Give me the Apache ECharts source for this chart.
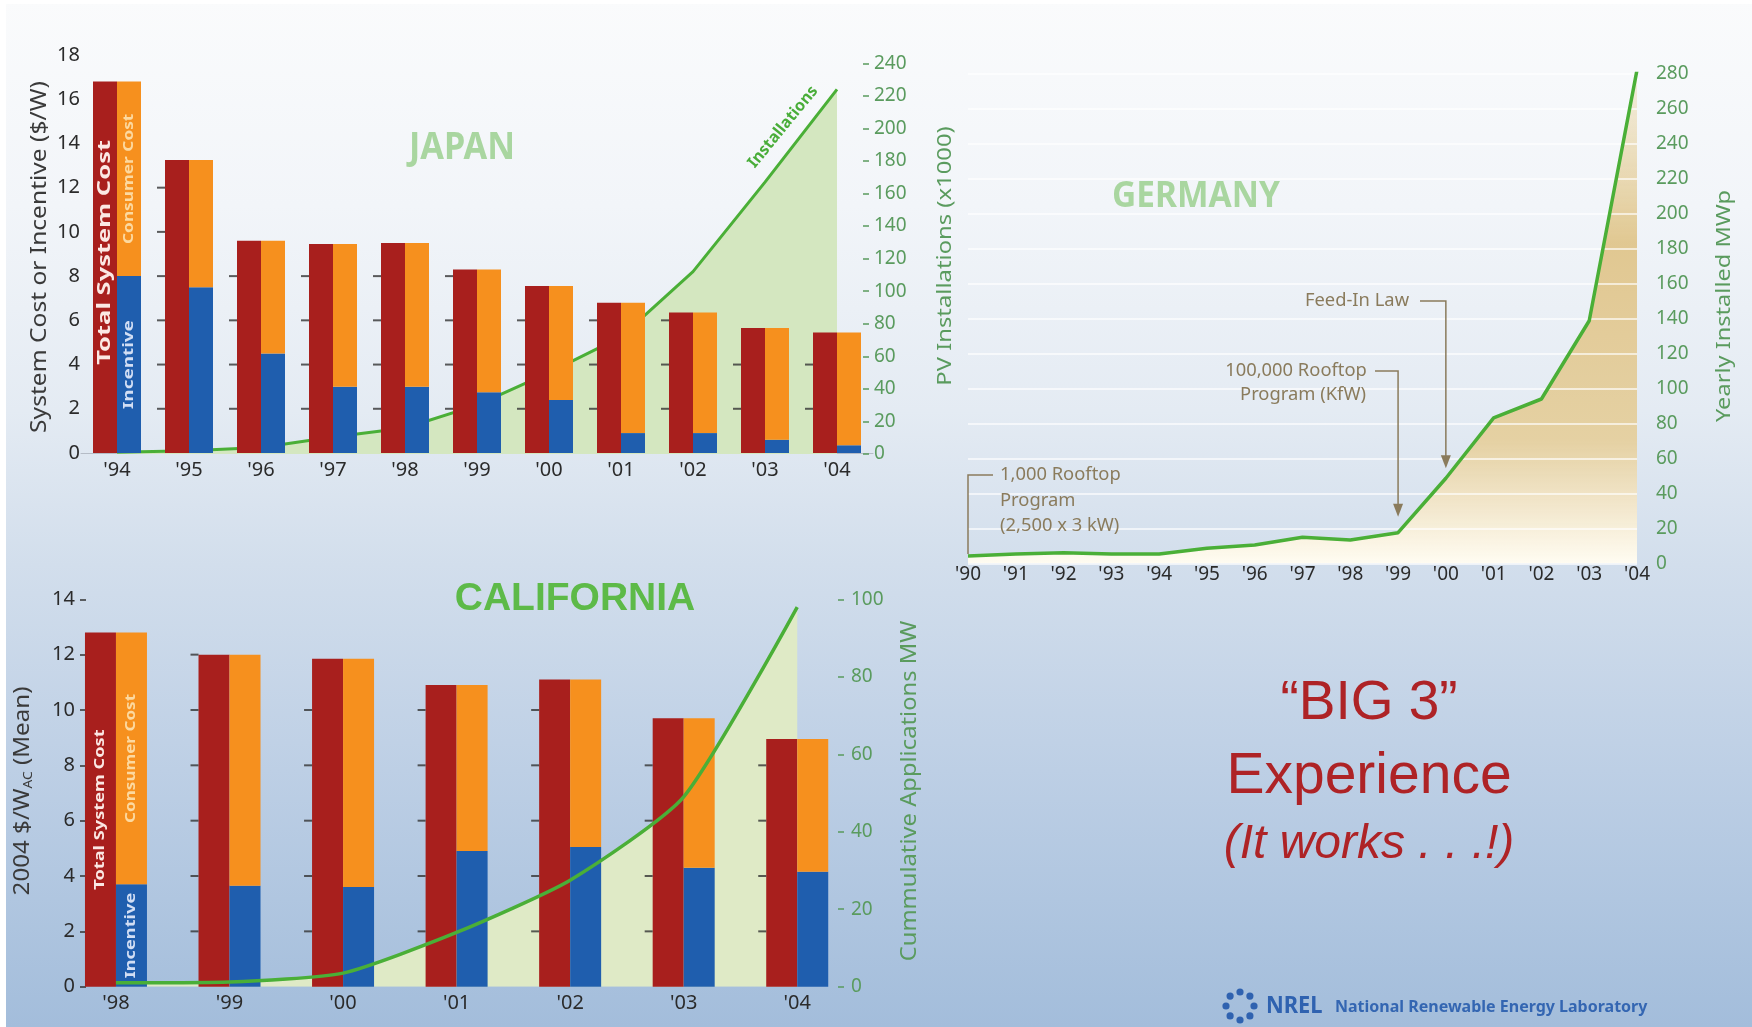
<!DOCTYPE html>
<html><head><meta charset="utf-8">
<script src="https://cdn.jsdelivr.net/npm/echarts@6/dist/echarts.min.js"></script>
<style>
html,body{margin:0;padding:0;width:1752px;height:1027px;overflow:hidden;background:#fff}
#c{position:absolute;left:0;top:0;width:1752px;height:1027px;
background:linear-gradient(to bottom,#fafbfc 0%,#f2f5f9 20%,#e4ebf3 40%,#d2deec 55%,#bdcfe5 75%,#a3bddb 100%);}
</style></head><body><div id="c"></div>
<script>
// ---------------- DATA ----------------
const barNames = ['Total System Cost', 'Consumer Cost', 'Incentive'];

const japanYears = ["'94","'95","'96","'97","'98","'99","'00","'01","'02","'03","'04"];
const japanTotal = [16.8, 13.25, 9.6, 9.45, 9.5, 8.3, 7.55, 6.8, 6.35, 5.65, 5.45];
const japanIncentive = [8.0, 7.5, 4.5, 3.0, 3.0, 2.75, 2.4, 0.9, 0.9, 0.6, 0.35];
const japanInstallations = [1, 2, 4, 10.5, 16, 30, 50, 72, 112, 167, 224];

const germanyYears = ["'90","'91","'92","'93","'94","'95","'96","'97","'98","'99","'00","'01","'02","'03","'04"];
const germanyInstalled = [4.3, 5.4, 6.2, 5.4, 5.4, 8.7, 10.6, 15, 13.4, 17.6, 48.7, 83.2, 94, 138.7, 282];

const caYears = ["'98","'99","'00","'01","'02","'03","'04"];
const caTotal = [12.8, 12.0, 11.85, 10.9, 11.1, 9.7, 8.95];
const caIncentive = [3.7, 3.65, 3.6, 4.9, 5.05, 4.3, 4.15];
const caApplications = [1, 1.2, 3.5, 14, 27.5, 49, 98];

const titles = {japan: 'JAPAN', germany: 'GERMANY', california: 'CALIFORNIA'};
const axisNames = {
  japanLeft: 'System Cost or Incentive ($/W)',
  japanRight: 'PV Installations (x1000)',
  germanyRight: 'Yearly Installed MWp',
  caRight: 'Cummulative Applications MW'
};
const germanyNotes = {
  rooftop1000: ['1,000 Rooftop', 'Program', '(2,500 x 3 kW)'],
  rooftop100k: ['100,000 Rooftop', 'Program (KfW)'],
  feedIn: 'Feed-In Law'
};

// ---------------- STYLE ----------------
const FONT = '"Noto Sans", "DejaVu Sans", sans-serif';
const ARIAL = '"Liberation Sans", Arial, sans-serif';
const RED = '#a81f1d', ORANGE = '#f6901e', BLUE = '#1f5eae';
const GREEN_LINE = '#4aaf37';
const AXIS_GREEN = '#5a9b5e';
const NOTE = '#8a7b5c';

const japanConsumer = japanTotal.map((t, i) => +(t - japanIncentive[i]).toFixed(2));
const caConsumer = caTotal.map((t, i) => +(t - caIncentive[i]).toFixed(2));

function dashData(totals, step) {
  const out = [];
  totals.forEach((t, i) => {
    if (i === 0) return;
    for (let v = step; v <= t + 0.05; v += step) out.push([i, v]);
  });
  return out;
}

const chart = echarts.init(document.getElementById('c'), null, {renderer: 'canvas', width: 1752, height: 1027});

const catLabel = (size, margin) => ({color: '#2b2b2b', fontSize: size, fontFamily: FONT, margin: margin, interval: 0});

chart.setOption({
  backgroundColor: 'transparent',
  animation: false,
  grid: [
    {left: 81, top: 55, width: 792, height: 398},
    {left: 81, top: 63.3, width: 792, height: 390.7},
    {left: 968, top: 73.5, width: 669, height: 490},
    {left: 59.2, top: 599.3, width: 794.8, height: 387.4}
  ],
  xAxis: [
    {gridIndex: 0, type: 'category', data: japanYears, axisTick: {show: false},
     axisLine: {lineStyle: {color: '#b5bcc6', width: 1}}, axisLabel: catLabel(20, 7)},
    {gridIndex: 1, type: 'category', data: japanYears, show: false},
    {gridIndex: 2, type: 'category', data: germanyYears, boundaryGap: false, axisTick: {show: false},
     axisLine: {show: false}, axisLabel: catLabel(19, 2)},
    {gridIndex: 3, type: 'category', data: caYears, axisTick: {show: false},
     axisLine: {show: false}, axisLabel: catLabel(20, 7)}
  ],
  yAxis: [
    {gridIndex: 0, type: 'value', min: 0, max: 18, interval: 2, splitLine: {show: false},
     axisLine: {show: false}, axisTick: {show: false},
     axisLabel: {color: '#2b2b2b', fontSize: 20, fontFamily: FONT, margin: 1}},
    {gridIndex: 1, type: 'value', position: 'right', offset: -10, min: 0, max: 240, interval: 20,
     splitLine: {show: false}, axisLine: {show: false},
     axisTick: {show: true, length: 6, lineStyle: {color: AXIS_GREEN, width: 1.5}},
     axisLabel: {color: AXIS_GREEN, fontSize: 19, fontFamily: FONT, margin: 11}},
    {gridIndex: 2, type: 'value', position: 'right', min: 0, max: 280, interval: 20, z: 3,
     splitLine: {show: true, lineStyle: {color: 'rgba(255,255,255,0.85)', width: 1.5}},
     axisLine: {show: false}, axisTick: {show: false},
     axisLabel: {color: AXIS_GREEN, fontSize: 19, fontFamily: FONT, margin: 19}},
    {gridIndex: 3, type: 'value', position: 'left', offset: -26.8, min: 0, max: 14, interval: 2,
     splitLine: {show: false}, axisLine: {show: false},
     axisTick: {show: true, length: 6, lineStyle: {color: '#333', width: 1.5}},
     axisLabel: {color: '#2b2b2b', fontSize: 20, fontFamily: FONT, margin: 11}},
    {gridIndex: 3, type: 'value', position: 'right', offset: -16, min: 0, max: 100, interval: 20,
     splitLine: {show: false}, axisLine: {show: false},
     axisTick: {show: true, length: 6, lineStyle: {color: AXIS_GREEN, width: 1.5}},
     axisLabel: {color: AXIS_GREEN, fontSize: 19, fontFamily: FONT, margin: 13}}
  ],
  series: [
    // ----- Japan -----
    {name: 'Installations', type: 'line', xAxisIndex: 1, yAxisIndex: 1, data: japanInstallations,
     symbol: 'none', z: 1, lineStyle: {color: GREEN_LINE, width: 3}, areaStyle: {color: '#d4e7c0', opacity: 1}},
    {name: barNames[0], type: 'bar', xAxisIndex: 0, yAxisIndex: 0, data: japanTotal, barWidth: 24, barGap: '0%',
     itemStyle: {color: RED}, z: 2},
    {name: barNames[2], type: 'bar', stack: 'jp', xAxisIndex: 0, yAxisIndex: 0, data: japanIncentive, barWidth: 24, barGap: '0%',
     itemStyle: {color: BLUE}, z: 2},
    {name: barNames[1], type: 'bar', stack: 'jp', xAxisIndex: 0, yAxisIndex: 0, data: japanConsumer, barWidth: 24, barGap: '0%',
     itemStyle: {color: ORANGE}, z: 2},
    {type: 'scatter', xAxisIndex: 0, yAxisIndex: 0, data: dashData(japanTotal, 2), symbol: 'rect',
     symbolSize: [8, 2], symbolOffset: [-28, 0], itemStyle: {color: '#333'}, z: 3, silent: true},
    // ----- Germany -----
    {type: 'line', xAxisIndex: 2, yAxisIndex: 2, data: germanyInstalled, symbol: 'none', z: 1,
     lineStyle: {width: 0},
     areaStyle: {opacity: 1, color: new echarts.graphic.LinearGradient(0, 0, 0, 1, [
       {offset: 0, color: 'rgba(236,216,168,0.35)'},
       {offset: 0.35, color: 'rgba(223,196,136,0.92)'},
       {offset: 0.75, color: 'rgba(229,206,156,0.92)'},
       {offset: 1, color: 'rgba(255,252,242,1)'}])}},
    {name: 'Yearly Installed MWp', type: 'line', xAxisIndex: 2, yAxisIndex: 2, data: germanyInstalled,
     symbol: 'none', z: 4, lineStyle: {color: GREEN_LINE, width: 3.5}},
    // ----- California -----
    {type: 'line', xAxisIndex: 3, yAxisIndex: 4, data: caApplications, symbol: 'none', smooth: 0.2, z: 1,
     lineStyle: {width: 0}, areaStyle: {color: '#dfeac6', opacity: 1}},
    {name: barNames[0], type: 'bar', xAxisIndex: 3, yAxisIndex: 3, data: caTotal, barWidth: 31, barGap: '0%',
     itemStyle: {color: RED}, z: 2},
    {name: barNames[2], type: 'bar', stack: 'ca', xAxisIndex: 3, yAxisIndex: 3, data: caIncentive, barWidth: 31, barGap: '0%',
     itemStyle: {color: BLUE}, z: 2},
    {name: barNames[1], type: 'bar', stack: 'ca', xAxisIndex: 3, yAxisIndex: 3, data: caConsumer, barWidth: 31, barGap: '0%',
     itemStyle: {color: ORANGE}, z: 2},
    {type: 'scatter', xAxisIndex: 3, yAxisIndex: 3, data: dashData(caTotal, 2), symbol: 'rect',
     symbolSize: [8, 2], symbolOffset: [-35, 0], itemStyle: {color: '#333'}, z: 3, silent: true},
    {name: 'Cummulative Applications MW', type: 'line', xAxisIndex: 3, yAxisIndex: 4, data: caApplications,
     symbol: 'none', smooth: 0.2, z: 5, lineStyle: {color: GREEN_LINE, width: 3.5}}
  ]
});

// ---------------- ANNOTATIONS ----------------
function txt(x, y, text, o) {
  const style = {text: text, fill: o.color, fontSize: o.size, fontWeight: o.weight || 'normal',
    fontStyle: o.fstyle || 'normal', fontFamily: o.family || FONT,
    textAlign: o.align || 'center', textVerticalAlign: 'middle', align: o.align || 'center', verticalAlign: 'middle'};
  if (o.rich) style.rich = o.rich;
  return {type: 'text', x: x, y: y, z: 100, silent: true, rotation: o.rot || 0,
    scaleX: o.sx || 1, scaleY: o.sy || 1, style: style};
}
const px = (i, v) => chart.convertToPixel({xAxisIndex: i}, v);
const py = (i, v) => chart.convertToPixel({yAxisIndex: i}, v);
const R90 = Math.PI / 2;

const g = [];
g.push({type: 'rect', z: 100, silent: true, shape: {x: 0, y: 0, width: 6, height: 1027}, style: {fill: '#ffffff'}});
g.push({type: 'rect', z: 100, silent: true, shape: {x: 0, y: 0, width: 1752, height: 4}, style: {fill: '#ffffff'}});

// titles
g.push(txt(462, 148, titles.japan, {color: '#a9d6a0', size: 38, weight: 'bold', sx: 0.9}));
g.push(txt(1196, 197, titles.germany, {color: '#a9d6a0', size: 36, weight: 'bold', sx: 0.93}));
g.push(txt(575, 599, titles.california, {color: '#5dba48', size: 39, weight: 'bold', family: ARIAL}));
g.push(txt(783, 127, 'Installations', {color: '#49ad39', size: 16, weight: 'bold', rot: 0.885}));

// axis names (the source graphic is slightly stretched vertically)
g.push(txt(40, 257, axisNames.japanLeft, {color: '#3a3a3a', size: 21, rot: R90, sx: 1.17}));
g.push(txt(945, 256, axisNames.japanRight, {color: AXIS_GREEN, size: 20, rot: R90, sx: 1.19}));
g.push(txt(1724, 306, axisNames.germanyRight, {color: AXIS_GREEN, size: 20, rot: R90, sx: 1.18}));
g.push(txt(910, 791, axisNames.caRight, {color: AXIS_GREEN, size: 21, rot: R90, sx: 1.13}));
g.push(txt(23, 791, '{a|2004 $/W}{s|AC}{a| (Mean)}', {color: '#3a3a3a', size: 21, rot: R90, sx: 1.15,
  rich: {a: {fontSize: 21, fontFamily: FONT, fill: '#3a3a3a', color: '#3a3a3a', lineHeight: 24},
         s: {fontSize: 12, fontFamily: FONT, fill: '#3a3a3a', color: '#3a3a3a', verticalAlign: 'bottom', lineHeight: 14}}}));

// bar labels (first category)
(function () {
  const xc = px(0, 0), y0 = py(0, 0), yT = py(0, japanTotal[0]), yI = py(0, japanIncentive[0]);
  g.push(txt(xc - 12, yT + 0.46 * (y0 - yT), barNames[0], {color: '#fbe8e4', size: 17, weight: 'bold', rot: R90, sx: 1.5}));
  g.push(txt(xc + 12, (yT + yI) / 2, barNames[1], {color: '#fcd9a0', size: 15, weight: 'bold', rot: R90, sx: 1.15}));
  g.push(txt(xc + 12, (yI + y0) / 2, barNames[2], {color: '#d2def4', size: 15, weight: 'bold', rot: R90, sx: 1.26}));
  const cx = px(3, 0), c0 = py(3, 0), cT = py(3, caTotal[0]), cI = py(3, caIncentive[0]);
  g.push(txt(cx - 15.5, (cT + c0) / 2, barNames[0], {color: '#fbe8e4', size: 14, weight: 'bold', rot: R90, sx: 1.3}));
  g.push(txt(cx + 15.5, (cT + cI) / 2, barNames[1], {color: '#fcd9a0', size: 14, weight: 'bold', rot: R90, sx: 1.22}));
  g.push(txt(cx + 15.5, (cI + c0) / 2, barNames[2], {color: '#d2def4', size: 14, weight: 'bold', rot: R90, sx: 1.3}));
})();

// Germany notes with brackets / arrows
(function () {
  const noteOpt = {color: NOTE, size: 18, sx: 1.02};
  germanyNotes.rooftop1000.forEach((t, i) => g.push(txt(1000, 475 + i * 25.5, t, Object.assign({align: 'left'}, noteOpt))));
  g.push(txt(1296, 371, germanyNotes.rooftop100k[0], noteOpt));
  g.push(txt(1303, 395, germanyNotes.rooftop100k[1], noteOpt));
  g.push(txt(1357, 301, germanyNotes.feedIn, noteOpt));

  const lineStyle = {stroke: NOTE, lineWidth: 1.5, fill: null};
  const x90 = px(2, 0), y90 = py(2, germanyInstalled[0]);
  g.push({type: 'polyline', z: 99, silent: true, shape: {points: [[993, 475], [x90, 475], [x90, y90 - 2]]}, style: lineStyle});
  function arrow(xStart, yTop, xArr, tipY) {
    g.push({type: 'polyline', z: 99, silent: true, shape: {points: [[xStart, yTop], [xArr, yTop], [xArr, tipY - 10]]}, style: lineStyle});
    g.push({type: 'polygon', z: 99, silent: true, shape: {points: [[xArr - 5, tipY - 13], [xArr + 5, tipY - 13], [xArr, tipY]]}, style: {fill: NOTE}});
  }
  arrow(1375, 371, px(2, 9), py(2, germanyInstalled[9]) - 16);
  arrow(1420, 301, px(2, 10), py(2, germanyInstalled[10]) - 10);
})();

// Big 3 text
g.push(txt(1369, 704, '\u201CBIG 3\u201D', {color: '#ae2326', size: 55, family: ARIAL}));
g.push(txt(1369, 777, 'Experience', {color: '#ae2326', size: 57, family: ARIAL}));
g.push(txt(1369, 845, '(It works . . .!)', {color: '#ae2326', size: 48, family: ARIAL, fstyle: 'italic'}));

// NREL logo
(function () {
  const cx = 1240, cy = 1006, r = 14, n = 8;
  for (let k = 0; k < n; k++) {
    const a = k * 2 * Math.PI / n;
    g.push({type: 'circle', z: 100, silent: true, shape: {cx: cx + r * Math.cos(a), cy: cy + r * Math.sin(a), r: 3.6}, style: {fill: '#2f62b0'}});
  }
  g.push(txt(1266, 1006, 'NREL', {color: '#2f62b0', size: 23, weight: 'bold', align: 'left', sx: 0.95}));
  g.push(txt(1335, 1007, 'National Renewable Energy Laboratory', {color: '#3466b2', size: 16, weight: 'bold', align: 'left'}));
})();

chart.setOption({graphic: g});
</script>
</body></html>
